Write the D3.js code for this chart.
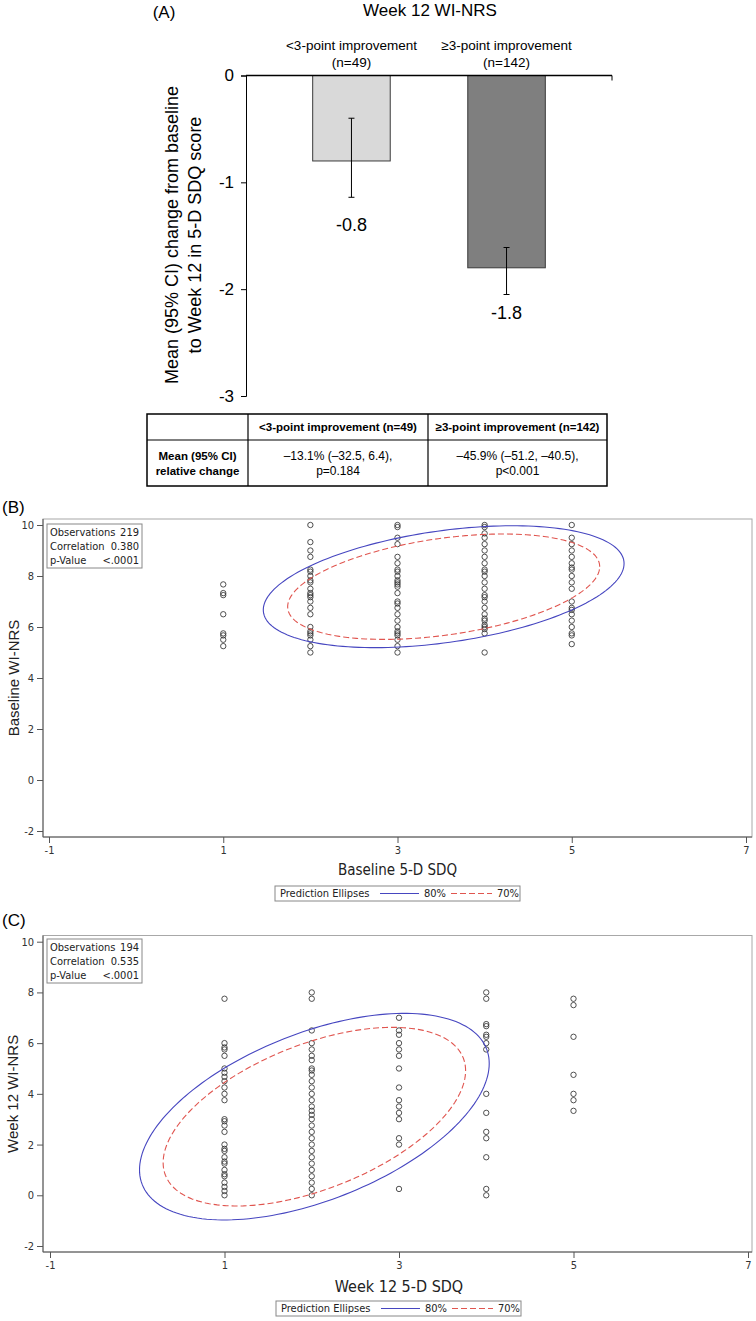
<!DOCTYPE html>
<html>
<head>
<meta charset="utf-8">
<script src="https://cdn.jsdelivr.net/npm/d3@7"></script>
<style>body{margin:0;background:#fff}</style>
</head>
<body>
<div id="chart"></div>
<script>
// ---- panel A data ----
const barGroups = ["<3-point improvement", "≥3-point improvement"];
const barN = [49, 142];
const barMean = [-0.8, -1.8];
const barLow = [-1.14, -2.05];
const barHigh = [-0.40, -1.61];
const barTicks = [0, -1, -2, -3];

// table under panel A
const tableHead = ["", "<3-point improvement (n=49)", "≥3-point improvement (n=142)"];
const tableRowLabel = ["Mean (95% CI)", "relative change"];
const tableLow3 = ["–13.1% (–32.5, 6.4),", "p=0.184"];
const tableHigh3 = ["–45.9% (–51.2, –40.5),", "p<0.001"];

// ---- panels B and C data ----
const sdqScores = [1, 2, 3, 4, 5];
const baselineNrs = [
  [7.67, 7.33, 7.25, 6.5, 5.75, 5.67, 5.5, 5.25],
  [10, 9.33, 9, 8.75, 8.25, 8.17, 8, 7.83, 7.75, 7.5, 7.33, 7.25, 7.17, 7, 6.75, 6.5, 6, 5.83, 5.75, 5.67, 5.5, 5.25, 5],
  [10, 9.92, 9.5, 9.25, 8.75, 8.5, 8.25, 8.17, 8, 7.83, 7.75, 7.67, 7.58, 7.33, 7, 6.92, 6.75, 6.5, 6.25, 6, 5.83, 5.75, 5.67, 5.5, 5.25, 5],
  [10, 9.92, 9.67, 9.5, 9.25, 9, 8.75, 8.5, 8.25, 8.17, 8, 7.75, 7.5, 7.25, 7.17, 7, 6.75, 6.5, 6.33, 6.25, 6.08, 6, 5.92, 5.75, 5],
  [10, 9.5, 9.25, 9, 8.75, 8.5, 8.33, 8.25, 8, 7.75, 7.5, 7, 6.75, 6.67, 6.5, 6.25, 6, 5.75, 5.67, 5.33]
];
const week12Nrs = [
  [7.75, 6, 5.83, 5.75, 5.5, 5, 4.83, 4.67, 4.5, 4.25, 4, 3.75, 3, 2.92, 2.75, 2.5, 2, 1.83, 1.75, 1.5, 1.33, 1.25, 1, 0.83, 0.75, 0.5, 0.33, 0.17, 0],
  [8, 7.75, 6.5, 6, 5.75, 5.5, 5.33, 5, 4.92, 4.75, 4.5, 4.25, 4, 3.75, 3.5, 3.33, 3.17, 3, 2.75, 2.5, 2.25, 2, 1.75, 1.5, 1.25, 1, 0.75, 0.5, 0.25, 0],
  [7, 6.5, 6.33, 6, 5.75, 5.5, 5, 4.25, 3.75, 3.5, 3.25, 3, 2.25, 2, 0.25],
  [8, 7.75, 6.75, 6.67, 6.33, 6.25, 6, 5.75, 4, 3.25, 2.5, 2.25, 1.5, 0.25, 0],
  [7.75, 7.5, 6.25, 4.75, 4, 3.75, 3.33]
];
const statNames = ["Observations", "Correlation", "p-Value"];
const baselineStats = ["219", "0.380", "<.0001"];
const week12Stats = ["194", "0.535", "<.0001"];
// ellipse: mean x, mean y, sd x, sd y, r
const baselineEllipse = [3.53, 7.58, 1.154, 1.332, 0.38];
const week12Ellipse = [2.03, 3.1, 1.117, 2.27, 0.515];
const ellipseLevels = [0.8, 0.7];
const ellipseNames = ["80%", "70%"];
const sdqTicks = [-1, 1, 3, 5, 7];
const nrsTicks = [-2, 0, 2, 4, 6, 8, 10];

const SANS = '"Liberation Sans", Arial, sans-serif';
const NARROW = '"Liberation Sans Narrow", "Arial Narrow", "DejaVu Sans Condensed", sans-serif';
const ellipseColor = ["#4646c0", "#e0554f"];
const ellipseDash = [null, "6,3"];

const svg = d3.select("#chart").append("svg")
    .attr("width", 756).attr("height", 1321)
    .style("font-family", SANS);

// ================= PANEL A =================
const yA = d3.scaleLinear().domain([-3, 0]).range([396, 75.5]);
const xA = d3.scaleBand().domain(barGroups).range([246, 612])
    .paddingInner(0.5).paddingOuter(0.43);

svg.append("text").attr("x", 164).attr("y", 12).attr("dominant-baseline", "central")
  .attr("text-anchor", "middle").style("font-size", "17px").text("(A)");
svg.append("text").attr("x", 430).attr("y", 10).attr("dominant-baseline", "central")
  .attr("text-anchor", "middle").style("font-size", "17px").text("Week 12 WI-NRS");

// y axis
const axA = svg.append("g").attr("transform", "translate(246,0)")
  .call(d3.axisLeft(yA).tickValues(barTicks).tickFormat(d => String(d)).tickSize(5));
axA.selectAll("path,line").attr("stroke", "#000");
axA.selectAll("text").style("font-size", "17px").style("font-family", SANS).attr("fill", "#000").attr("x", -12);

svg.append("g").attr("transform", "translate(172,235) rotate(-90)")
  .selectAll("text")
  .data(["Mean (95% CI) change from baseline", "to Week 12 in 5-D SDQ score"])
  .join("text")
    .attr("x", 0).attr("y", (d, i) => i * 23)
    .attr("text-anchor", "middle").attr("dominant-baseline", "central")
    .style("font-size", "18px")
    .text(d => d);

// bars
svg.selectAll("rect.bar").data(barGroups).join("rect")
  .attr("class", "bar")
  .attr("x", d => xA(d))
  .attr("y", yA(0))
  .attr("width", xA.bandwidth())
  .attr("height", (d, i) => yA(barMean[i]) - yA(0))
  .attr("fill", (d, i) => i === 0 ? "#d9d9d9" : "#7f7f7f")
  .attr("stroke", "#3a3a3a").attr("stroke-width", 1);

// zero line
svg.append("line").attr("x1", 246).attr("x2", 612).attr("y1", yA(0)).attr("y2", yA(0))
  .attr("stroke", "#000").attr("stroke-width", 1.5);
svg.append("line").attr("x1", 612).attr("x2", 612).attr("y1", yA(0)).attr("y2", yA(0) + 5)
  .attr("stroke", "#000");

// error bars
const eb = svg.selectAll("g.err").data(barGroups).join("g").attr("class", "err");
eb.append("line")
  .attr("x1", d => xA(d) + xA.bandwidth() / 2).attr("x2", d => xA(d) + xA.bandwidth() / 2)
  .attr("y1", (d, i) => yA(barHigh[i])).attr("y2", (d, i) => yA(barLow[i]))
  .attr("stroke", "#000");
[barHigh, barLow].forEach(arr => {
  eb.append("line")
    .attr("x1", d => xA(d) + xA.bandwidth() / 2 - 3).attr("x2", d => xA(d) + xA.bandwidth() / 2 + 3)
    .attr("y1", (d, i) => yA(arr[i])).attr("y2", (d, i) => yA(arr[i]))
    .attr("stroke", "#000");
});

// value labels
const labelGap = [28, 18];
svg.selectAll("text.val").data(barGroups).join("text")
  .attr("class", "val")
  .attr("x", d => xA(d) + xA.bandwidth() / 2)
  .attr("y", (d, i) => yA(barLow[i]) + labelGap[i])
  .attr("text-anchor", "middle").attr("dominant-baseline", "central")
  .style("font-size", "18px")
  .text((d, i) => String(barMean[i]));

// group labels
const gl = svg.selectAll("g.glab").data(barGroups).join("g").attr("class", "glab")
  .attr("transform", d => `translate(${xA(d) + xA.bandwidth() / 2},0)`);
gl.append("text").attr("y", 45.5).attr("text-anchor", "middle").attr("dominant-baseline", "central")
  .style("font-size", "13.5px").text(d => d);
gl.append("text").attr("y", 62).attr("text-anchor", "middle").attr("dominant-baseline", "central")
  .style("font-size", "13.5px").text((d, i) => `(n=${barN[i]})`);

// table
const tCols = [147, 248, 428, 607];
const tRows = [414, 440, 486];
const tbl = svg.append("g");
tbl.append("rect").attr("x", tCols[0]).attr("y", tRows[0])
  .attr("width", tCols[3] - tCols[0]).attr("height", tRows[2] - tRows[0])
  .attr("fill", "none").attr("stroke", "#000").attr("stroke-width", 1.5);
tbl.append("line").attr("x1", tCols[0]).attr("x2", tCols[3]).attr("y1", tRows[1]).attr("y2", tRows[1])
  .attr("stroke", "#000").attr("stroke-width", 1.2);
[tCols[1], tCols[2]].forEach(cx => tbl.append("line").attr("x1", cx).attr("x2", cx)
  .attr("y1", tRows[0]).attr("y2", tRows[2]).attr("stroke", "#000").attr("stroke-width", 1.2));
tableHead.forEach((h, i) => {
  if (i === 0) return;
  tbl.append("text").attr("x", (tCols[i] + tCols[i + 1]) / 2).attr("y", (tRows[0] + tRows[1]) / 2)
    .attr("text-anchor", "middle").attr("dominant-baseline", "central")
    .style("font-size", "11.5px").style("font-weight", "bold").text(h);
});
[tableRowLabel, tableLow3, tableHigh3].forEach((lines, c) => {
  const mid = (tRows[1] + tRows[2]) / 2;
  lines.forEach((s, k) => {
    tbl.append("text").attr("x", (tCols[c] + tCols[c + 1]) / 2).attr("y", mid + (k - 0.5) * 15)
      .attr("text-anchor", "middle").attr("dominant-baseline", "central")
      .style("font-size", c === 0 ? "11.5px" : "12px")
      .style("font-weight", c === 0 ? "bold" : "normal")
      .text(s);
  });
});

// ================= PANELS B and C =================
function ellipsePts(e, p) {
  const c = Math.sqrt(-2 * Math.log(1 - p));
  const [mx, my, sx, sy, r] = e;
  return d3.range(0, 361, 2).map(deg => {
    const t = deg * Math.PI / 180;
    return [mx + c * sx * Math.cos(t), my + c * sy * (r * Math.cos(t) + Math.sqrt(1 - r * r) * Math.sin(t))];
  });
}

function scatterPanel(o) {
  const x = d3.scaleLinear().domain([-1, 7]).range(o.xRange);
  const y = d3.scaleLinear().domain([-2, 10]).range(o.yRange);
  const g = svg.append("g");
  const [fx0, fx1, fy0, fy1] = o.frame;

  g.append("text").attr("x", 2).attr("y", o.tagY).attr("dominant-baseline", "central")
    .style("font-size", "17px").text(o.tag);

  g.append("rect").attr("x", fx0).attr("y", fy0).attr("width", fx1 - fx0).attr("height", fy1 - fy0)
    .attr("fill", "none").attr("stroke", "#a8a8a8");

  const ay = g.append("g").attr("transform", `translate(${fx0},0)`)
    .call(d3.axisLeft(y).tickValues(nrsTicks).tickSize(6).tickSizeOuter(0).tickFormat(d => String(d)));
  ay.select(".domain").attr("d", `M0,${fy0}V${fy1}`);
  const ax = g.append("g").attr("transform", `translate(0,${fy1})`)
    .call(d3.axisBottom(x).tickValues(sdqTicks).tickSize(6).tickSizeOuter(0).tickFormat(d => String(d)));
  ax.select(".domain").attr("d", `M${fx0},0H${fx1}`);
  [ay, ax].forEach(a => {
    a.selectAll("path,line").attr("stroke", "#555");
    a.selectAll("text").style("font-family", NARROW).style("font-size", "11px").attr("fill", "#333");
  });

  g.append("text").attr("x", 13).attr("y", (o.yRange[0] + o.yRange[1]) / 2)
    .attr("transform", `rotate(-90,13,${(o.yRange[0] + o.yRange[1]) / 2})`)
    .attr("text-anchor", "middle").attr("dominant-baseline", "central")
    .style("font-size", "15px").attr("fill", "#222").text(o.yLabel);
  g.append("text").attr("x", (o.xRange[0] + o.xRange[1]) / 2).attr("y", o.xLabelY)
    .attr("text-anchor", "middle").attr("dominant-baseline", "central")
    .style("font-family", NARROW).style("font-size", o.xLabelSize).attr("fill", "#222").text(o.xLabel);

  // points
  sdqScores.forEach((s, i) => {
    g.append("g").selectAll("circle").data(o.values[i]).join("circle")
      .attr("cx", x(s)).attr("cy", d => y(d)).attr("r", 2.7)
      .attr("fill", "none").attr("stroke", "#333").attr("stroke-opacity", 0.85).attr("stroke-width", 1);
  });

  // ellipses
  const line = d3.line().x(d => x(d[0])).y(d => y(d[1]));
  ellipseLevels.forEach((p, k) => {
    g.append("path").attr("d", line(ellipsePts(o.ellipse, p)))
      .attr("fill", "none").attr("stroke", ellipseColor[k]).attr("stroke-width", 1.1)
      .attr("stroke-dasharray", ellipseDash[k]);
  });

  // stats inset
  const ib = g.append("g").attr("transform", `translate(${o.inset[0]},${o.inset[1]})`);
  ib.append("rect").attr("width", 95).attr("height", 44).attr("fill", "#fff").attr("stroke", "#888");
  statNames.forEach((nm, k) => {
    ib.append("text").attr("x", 3).attr("y", 8 + k * 14).attr("dominant-baseline", "central")
      .style("font-family", NARROW).style("font-size", "11px").attr("fill", "#222").text(nm);
    ib.append("text").attr("x", 92).attr("y", 8 + k * 14).attr("text-anchor", "end").attr("dominant-baseline", "central")
      .style("font-family", NARROW).style("font-size", "11px").attr("fill", "#222").text(o.stats[k]);
  });

  // legend
  const lg = g.append("g").attr("transform", `translate(${o.legend[0]},${o.legend[1]})`);
  lg.append("rect").attr("width", 245).attr("height", 15).attr("fill", "#fff").attr("stroke", "#888");
  lg.append("text").attr("x", 5).attr("y", 7.5).attr("dominant-baseline", "central")
    .style("font-family", NARROW).style("font-size", "11px").attr("fill", "#222").text("Prediction Ellipses");
  ellipseNames.forEach((nm, k) => {
    lg.append("line").attr("x1", 105 + k * 71).attr("x2", 144 + k * 73).attr("y1", 7.5).attr("y2", 7.5)
      .attr("stroke", ellipseColor[k]).attr("stroke-width", 1.1).attr("stroke-dasharray", ellipseDash[k]);
    lg.append("text").attr("x", 149 + k * 73).attr("y", 7.5).attr("dominant-baseline", "central")
      .style("font-family", NARROW).style("font-size", "11px").attr("fill", "#222").text(nm);
  });
}

scatterPanel({
  tag: "(B)", tagY: 507,
  xRange: [49, 746], yRange: [831, 525], frame: [43, 752, 519, 837],
  values: baselineNrs, ellipse: baselineEllipse, stats: baselineStats,
  yLabel: "Baseline WI-NRS", xLabel: "Baseline 5-D SDQ", xLabelY: 870, xLabelSize: "15px",
  inset: [47, 524], legend: [275, 886]
});
scatterPanel({
  tag: "(C)", tagY: 920,
  xRange: [50, 748], yRange: [1246, 941.7], frame: [43, 752, 935.5, 1252],
  values: week12Nrs, ellipse: week12Ellipse, stats: week12Stats,
  yLabel: "Week 12 WI-NRS", xLabel: "Week 12 5-D SDQ", xLabelY: 1286, xLabelSize: "16px",
  inset: [47, 939], legend: [276, 1301]
});
</script>
</body>
</html>
